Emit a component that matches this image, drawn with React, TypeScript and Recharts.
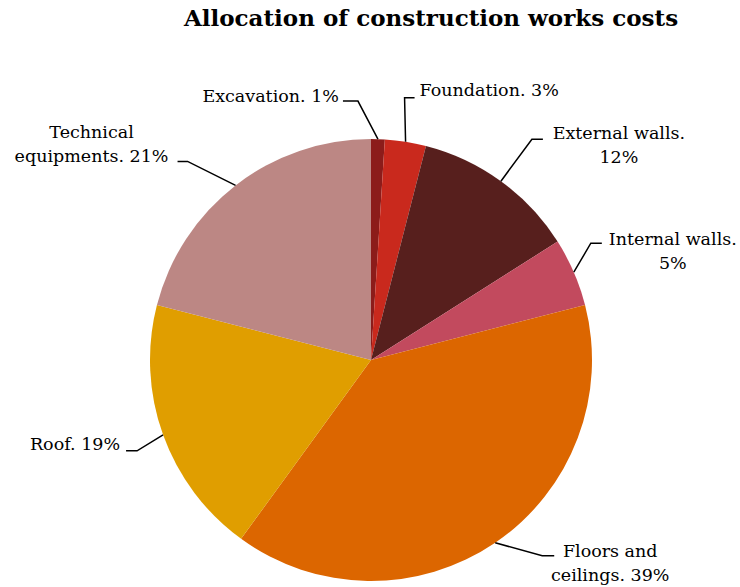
import React from 'react'
import { PieChart, Pie, Cell } from 'recharts'

// data
const categories = [
  'Excavation',
  'Foundation',
  'External walls',
  'Internal walls',
  'Floors and ceilings',
  'Roof',
  'Technical equipments',
]
const shares = [1, 3, 12, 5, 39, 19, 21]

// label text lines (as in the source, label + ". " + percent)
const labelLines = [
  ['Excavation. 1%'],
  ['Foundation. 3%'],
  ['External walls.', '12%'],
  ['Internal walls.', '5%'],
  ['Floors and', 'ceilings. 39%'],
  ['Roof. 19%'],
  ['Technical', 'equipments. 21%'],
]

const colors = ['#8c1c1a', '#c9291d', '#571f1d', '#c24a5e', '#dc6600', '#e09e00', '#bc8784']

// leader line elbow offset (from slice edge), horizontal tail, text placement
const labelLayout = [
  { dx: -20, dy: -38, tail: -15, anchor: 'end', tx: -4, ty: 1 },
  { dx: -1, dy: -44, tail: 10, anchor: 'start', tx: 5, ty: -2 },
  { dx: 31, dy: -42, tail: 11, anchor: 'middle', tx: 76, ty: 0 },
  { dx: 17, dy: -29, tail: 11, anchor: 'middle', tx: 71, ty: 2 },
  { dx: 47, dy: 13, tail: 12, anchor: 'middle', tx: 56, ty: 1 },
  { dx: -26, dy: 16, tail: -11, anchor: 'end', tx: -6, ty: -1 },
  { dx: -48, dy: -24, tail: -10, anchor: 'middle', tx: -86, ty: -23 },
]

const data = categories.map((name, i) => ({ name, value: shares[i] }))

const FONT = '"DejaVu Serif", Georgia, serif'
const RAD = Math.PI / 180

const renderLabel = (props: any) => {
  const { cx, cy, midAngle, outerRadius, index } = props
  const l = labelLayout[index]
  const x0 = cx + outerRadius * Math.cos(-midAngle * RAD)
  const y0 = cy + outerRadius * Math.sin(-midAngle * RAD)
  const x1 = x0 + l.dx
  const y1 = y0 + l.dy
  const x2 = x1 + l.tail
  return (
    <g key={`lbl-${index}`}>
      <polyline
        points={`${x0},${y0} ${x1},${y1} ${x2},${y1}`}
        fill="none"
        stroke="#000"
        strokeWidth={1.5}
      />
      <text
        x={x2 + l.tx}
        y={y1 + l.ty}
        textAnchor={l.anchor}
        fontFamily={FONT}
        fontSize={17.5}
        fill="#000"
      >
        {labelLines[index].map((t, j) => (
          <tspan key={j} x={x2 + l.tx} dy={j === 0 ? 0 : 24}>
            {t}
          </tspan>
        ))}
      </text>
    </g>
  )
}

export default function App() {
  return (
    <div style={{ position: 'absolute', left: 0, top: 0, width: 740, height: 587, background: '#fff' }}>
      <div
        style={{
          position: 'absolute',
          left: 0,
          top: 4,
          width: 862,
          textAlign: 'center',
          fontFamily: FONT,
          fontWeight: 'bold',
          fontSize: 23,
          lineHeight: '28px',
          color: '#000',
        }}
      >
        Allocation of construction works costs
      </div>
      <PieChart width={740} height={587}>
        <Pie
          data={data}
          dataKey="value"
          nameKey="name"
          cx={366}
          cy={355}
          outerRadius={221}
          startAngle={90}
          endAngle={-270}
          stroke="none"
          label={renderLabel}
          labelLine={false}
          isAnimationActive={false}
        >
          {data.map((entry, index) => (
            <Cell key={`cell-${index}`} fill={colors[index]} />
          ))}
        </Pie>
      </PieChart>
    </div>
  )
}
